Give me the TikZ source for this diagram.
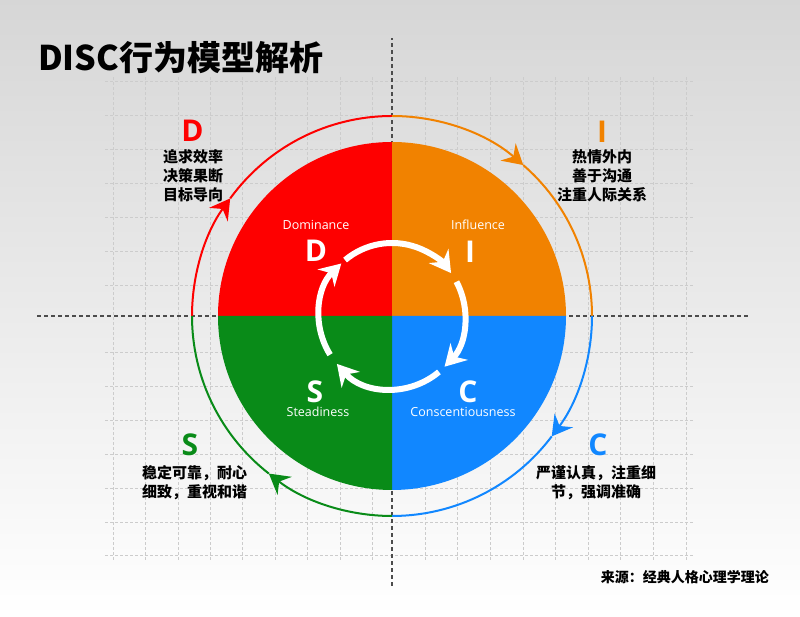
\documentclass[tikz,border=0pt]{standalone}
\usepackage{fontspec}
\setmainfont{Open Sans}
\newfontfamily\cjk{Noto Sans CJK SC}
\usetikzlibrary{arrows.meta}
\definecolor{dred}{RGB}{254,0,0}
\definecolor{dorange}{RGB}{241,130,0}
\definecolor{dgreen}{RGB}{9,139,24}
\definecolor{dblue}{RGB}{17,135,255}

\begin{document}
\begin{tikzpicture}[x=1pt,y=1pt,
  gridline/.style={draw=black!20,line width=0.6pt,dash pattern=on 3pt off 2pt},
  axisline/.style={draw=black!70,line width=1.2pt,dash pattern=on 4pt off 3pt},
  outerring/.style={line width=2pt},
  cyclearrow/.style={draw=white,line width=6pt,-{Stealth[length=21pt,width=24pt,inset=7pt]}},
  letter/.style={font=\fontsize{30}{30}\selectfont\bfseries,inner sep=0pt},
  qname/.style={font=\fontsize{12.5}{12.5}\selectfont,text=white,inner sep=0pt},
  trait/.style={font=\cjk\bfseries\fontsize{15}{19}\selectfont,align=center,inner sep=0pt}]
\shade[top color=black!16,bottom color=white] (0,0) rectangle (800,617);
\useasboundingbox (0,0) rectangle (800,617);

\foreach \i in {0,...,8} {
  \draw[gridline] (113+32.4*\i,57) -- (113+32.4*\i,540);
  \draw[gridline] (425+32.6*\i,57) -- (425+32.6*\i,540);
}
\foreach \j in {0,...,6,8,9,...,14}
  \draw[gridline] (105,535.3-33.86*\j) -- (693,535.3-33.86*\j);

\coordinate (c) at (392,301);
\draw[axisline] (37,301) -- (748,301);
\draw[axisline] (392,31) -- (392,579);

\foreach \col/\a in {dred/90,dorange/0,dblue/-90,dgreen/180}
  \fill[\col] (c) -- ++(\a:174) arc[start angle=\a,end angle=\a+90,radius=174] -- cycle;

\foreach \col/\a/\m in {dred/180/144,dorange/90/49,dblue/0/-37,dgreen/-90/-128} {
  \draw[outerring,\col,-{Stealth[length=20pt,width=23pt,inset=7pt]}] (c) ++(\a:200) arc[start angle=\a,end angle=\m,radius=200];
  \draw[outerring,\col] (c) ++(\m:200) arc[start angle=\m,end angle=\a-90,radius=200];
}

\foreach \s/\e in {130/36,28/-44,-50/-139,-148/-226}
  \draw[cyclearrow] (c) ++(\s:73) arc[start angle=\s,end angle=\e,radius=73];

\node[qname] (dom) at (316,392) {Dominance};
\node[letter,text=white] (dbig) at (316,366) {D};
\node[qname] (inf) at (478,392) {Influence};
\node[letter,text=white] (ibig) at (470,365) {I};
\node[letter,text=white] (sbig) at (315,225) {S};
\node[qname] (ste) at (318,205) {Steadiness};
\node[letter,text=white] (cbig) at (468,225) {C};
\node[qname] (con) at (463,205) {Conscentiousness};

\node[letter,text=dred] (dout) at (192.5,486) {D};
\node[trait] (dtxt) at (193,441.5) {追求效率\\决策果断\\目标导向};
\node[letter,text=dorange] (iout) at (602,485) {I};
\node[trait] (itxt) at (602,441) {热情外内\\善于沟通\\注重人际关系};
\node[letter,text=dgreen] (sout) at (190,172) {S};
\node[trait] (stxt) at (194.5,134) {稳定可靠，耐心\\细致，重视和谐};
\node[letter,text=dblue] (cout) at (598,172) {C};
\node[trait] (ctxt) at (596,134) {严谨认真，注重细\\节，强调准确};

\node[anchor=west,inner sep=0pt,font=\cjk\bfseries\fontsize{34}{40}\selectfont] (title) at (38,559) {DISC行为模型解析};
\node[anchor=east,inner sep=0pt,font=\cjk\bfseries\fontsize{14}{16}\selectfont] (src) at (769,40) {来源：经典人格心理学理论};
\end{tikzpicture}
\end{document}
